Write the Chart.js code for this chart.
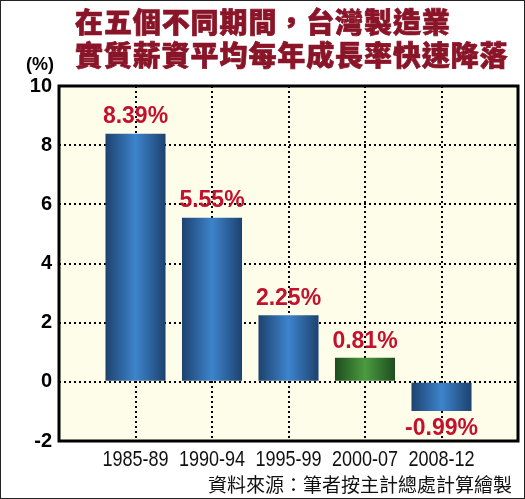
<!DOCTYPE html>
<html>
<head>
<meta charset="utf-8">
<script src="https://cdn.jsdelivr.net/npm/chart.js@4"></script>
<style>
  html, body { margin: 0; padding: 0; background: #fff; }
  #wrap {
    position: relative; width: 525px; height: 499px;
    box-sizing: border-box; border: 1px solid #222; overflow: hidden;
  }
  #grafico { position: absolute; left: 0; top: 0; }
  .titulo {
    position: absolute; left: 74px; color: #8a1529;
    font-family: "Noto Sans CJK TC", sans-serif; font-weight: 900;
    font-size: 28px; letter-spacing: 0.9px; line-height: 33px; white-space: nowrap;
    -webkit-text-stroke: 0.7px #8a1529;
  }
  #unidad {
    position: absolute; left: 25px; top: 53px;
    font-family: "Liberation Sans", Arial, sans-serif; font-weight: bold; font-size: 18px;
  }
  #fuente {
    position: absolute; right: 12px; top: 471px;
    font-family: "Noto Sans CJK TC", sans-serif; font-size: 19px; line-height: 24px; color: #111;
  }
</style>
</head>
<body>
<div id="wrap">
  <canvas id="grafico" width="525" height="499"></canvas>
  <div class="titulo" style="top:4px">在五個不同期間，台灣製造業</div>
  <div class="titulo" style="top:37px">實質薪資平均每年成長率快速降落</div>
  <div id="unidad">(%)</div>
  <div id="fuente">資料來源：筆者按主計總處計算繪製</div>
</div>
<script>
// datos del gráfico
const periodos = ['1985-89', '1990-94', '1995-99', '2000-07', '2008-12'];
const tasas = [8.39, 5.55, 2.25, 0.81, -0.99];
const etiquetas = ['8.39%', '5.55%', '2.25%', '0.81%', '-0.99%'];
const ticksY = [-2, 0, 2, 4, 6, 8, 10];

// colores (borde oscuro -> centro claro)
const azul = ['#1d426f', '#3d84cc'];
const verde = ['#1e4d1e', '#4b9b41'];
const esVerde = [false, false, false, true, false];

// se agrega un espacio vacío a cada lado para que las líneas caigan en el centro
const labels = [''].concat(periodos, ['']);
const valores = [null].concat(tasas, [null]);

const ctx = document.getElementById('grafico').getContext('2d');

function degradado(context) {
  const chart = context.chart;
  const i = context.dataIndex - 1;
  const cols = esVerde[i] ? verde : azul;
  const x = chart.scales.x;
  if (!x || !chart.chartArea) return cols[1];
  const cx = x.getPixelForValue(context.dataIndex);
  const g = chart.ctx.createLinearGradient(cx - 30, 0, cx + 30, 0);
  g.addColorStop(0, cols[0]);
  g.addColorStop(0.5, cols[1]);
  g.addColorStop(1, cols[0]);
  return g;
}

const fondoYBorde = {
  id: 'fondoYBorde',
  beforeDraw(chart) {
    const a = chart.chartArea;
    const c = chart.ctx;
    c.save();
    c.fillStyle = '#fefdea';
    c.fillRect(a.left, a.top, a.right - a.left, a.bottom - a.top);
    c.restore();
  },
  afterDatasetsDraw(chart) {
    const a = chart.chartArea;
    const c = chart.ctx;
    c.save();
    // etiquetas de valores
    c.fillStyle = '#c3112d';
    c.font = 'bold 23px "Liberation Sans", Arial, sans-serif';
    c.textAlign = 'center';
    const meta = chart.getDatasetMeta(0);
    tasas.forEach((v, i) => {
      const bar = meta.data[i + 1];
      if (v >= 0) {
        c.textBaseline = 'bottom';
        c.fillText(etiquetas[i], bar.x, bar.y - 5);
      } else {
        c.textBaseline = 'top';
        c.fillText(etiquetas[i], bar.x, bar.y + 6);
      }
    });
    // borde del área
    c.strokeStyle = '#000';
    c.lineWidth = 3;
    c.strokeRect(a.left, a.top, a.right - a.left, a.bottom - a.top);
    // etiquetas del eje x, en letra angosta
    const x = chart.scales.x;
    c.fillStyle = '#111';
    c.font = '22px "Liberation Sans", Arial, sans-serif';
    c.textBaseline = 'top';
    x.ticks.forEach((t, i) => {
      const txt = labels[t.value];
      if (!txt) return;
      const px = x.getPixelForTick(i);
      c.save();
      c.translate(px, a.bottom + 8);
      c.scale(0.82, 1);
      c.fillText(txt, 0, 0);
      c.restore();
    });
    c.restore();
  }
};

const myChart = new Chart(ctx, {
  type: 'bar',
  data: {
    labels: labels,
    datasets: [{
      data: valores,
      backgroundColor: degradado,
      borderWidth: 0,
      barPercentage: 0.785,
      categoryPercentage: 1
    }]
  },
  options: {
    responsive: false,
    animation: false,
    layout: { padding: { left: 0, right: 8, top: 85, bottom: 29 } },
    plugins: { legend: { display: false }, tooltip: { enabled: false } },
    scales: {
      x: {
        offset: false,
        grid: { offset: false, color: '#000', lineWidth: 2, drawTicks: false },
        border: { display: false, dash: [2, 3] },
        ticks: { autoSkip: false, display: false },
        afterFit(scale) { scale.height = 30; }
      },
      y: {
        min: -2, max: 10,
        afterBuildTicks(scale) { scale.ticks = ticksY.map(v => ({ value: v })); },
        grid: { color: '#000', lineWidth: 2, drawTicks: false },
        border: { display: false, dash: [2, 3] },
        ticks: {
          padding: 7, color: '#000',
          font: { family: '"Liberation Sans", Arial, sans-serif', size: 20, weight: 'bold' }
        },
        afterFit(scale) { scale.width = 58; }
      }
    }
  },
  plugins: [fondoYBorde]
});
</script>
</body>
</html>
